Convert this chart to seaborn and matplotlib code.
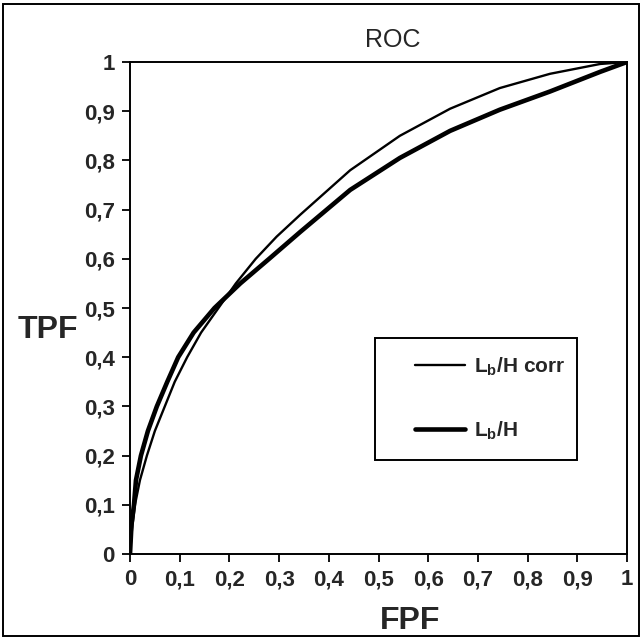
import pandas as pd
import seaborn as sns
import matplotlib.pyplot as plt
from matplotlib.patches import Rectangle

# ROC points
fpf_corr = [0, 0.004, 0.01, 0.02, 0.034, 0.05, 0.07, 0.09, 0.115, 0.143, 0.178, 0.213, 0.253,
            0.295, 0.343, 0.443, 0.543, 0.644, 0.744, 0.845, 0.946, 1]
tpf_corr = [0, 0.05, 0.1, 0.15, 0.2, 0.25, 0.3, 0.35, 0.4, 0.45, 0.5, 0.55, 0.6,
            0.645, 0.69, 0.78, 0.85, 0.905, 0.947, 0.976, 0.996, 1]
fpf_raw = [0, 0.003, 0.008, 0.012, 0.022, 0.036, 0.054, 0.075, 0.097, 0.128, 0.17, 0.222, 0.28,
           0.343, 0.443, 0.543, 0.644, 0.744, 0.845, 0.946, 1]
tpf_raw = [0, 0.06, 0.1, 0.15, 0.2, 0.25, 0.3, 0.35, 0.4, 0.45, 0.5, 0.55, 0.6,
           0.655, 0.74, 0.805, 0.86, 0.903, 0.94, 0.98, 1]
ticks = [0, 0.1, 0.2, 0.3, 0.4, 0.5, 0.6, 0.7, 0.8, 0.9, 1]
tick_labels = ['0', '0,1', '0,2', '0,3', '0,4', '0,5', '0,6', '0,7', '0,8', '0,9', '1']

sns.set_style('ticks')
plt.rcParams['font.family'] = ['Liberation Sans', 'DejaVu Sans']
plt.rcParams['mathtext.fontset'] = 'custom'
plt.rcParams['mathtext.rm'] = 'Liberation Sans:bold'
plt.rcParams['mathtext.bf'] = 'Liberation Sans:bold'

corr = pd.DataFrame({'FPF': fpf_corr, 'TPF': tpf_corr})
raw = pd.DataFrame({'FPF': fpf_raw, 'TPF': tpf_raw})

fig = plt.figure(figsize=(6.44, 6.39), dpi=100)
ax = fig.add_axes([130/644, 1-554/639, 497/644, 492/639])

sns.lineplot(data=corr, x='FPF', y='TPF', ax=ax, color='black', linewidth=1.7,
             sort=False, estimator=None, label=r'L$_\mathbf{b}$/H corr')
sns.lineplot(data=raw, x='FPF', y='TPF', ax=ax, color='black', linewidth=3.3,
             sort=False, estimator=None, label=r'L$_\mathbf{b}$/H')

ax.set_xlim(0, 1)
ax.set_ylim(0, 1)
ax.set_xticks(ticks)
ax.set_xticklabels(tick_labels, fontsize=16, fontweight='bold')
ax.set_yticks(ticks)
ax.set_yticklabels(tick_labels, fontsize=16, fontweight='bold')
ax.tick_params(direction='out', length=6, width=1.3, color='black', pad=5)
for s in ax.spines.values():
    s.set_color('black')
    s.set_linewidth(1.4)
ax.set_xlabel('')
ax.set_ylabel('')

fig.text(393/644, 1-40/639, 'ROC', fontsize=18, ha='center', va='center')
fig.text(48/644, 1-330/639, 'TPF', fontsize=23, fontweight='bold', ha='center', va='center')
fig.text(410/644, 1-621/639, 'FPF', fontsize=23, fontweight='bold', ha='center', va='center')

# legend box drawn separately, entries placed inside it
fig.patches.append(Rectangle((375/644, 1-460/639), 202/644, 122/639, transform=fig.transFigure,
                             fill=False, edgecolor='black', linewidth=1.4))
leg = ax.legend(loc='upper left', bbox_to_anchor=(415/644, 1-355/639), bbox_transform=fig.transFigure,
                fontsize=15, labelspacing=2.0, handlelength=2.4, handletextpad=0.45,
                borderpad=0, borderaxespad=0, frameon=False)
for t in leg.get_texts():
    t.set_fontweight('bold')

fig.patches.append(Rectangle((3/644, 3/639), 636/644, 632/639, transform=fig.transFigure,
                             fill=False, edgecolor='black', linewidth=1.4))

fig.savefig('out.png', dpi=100)
